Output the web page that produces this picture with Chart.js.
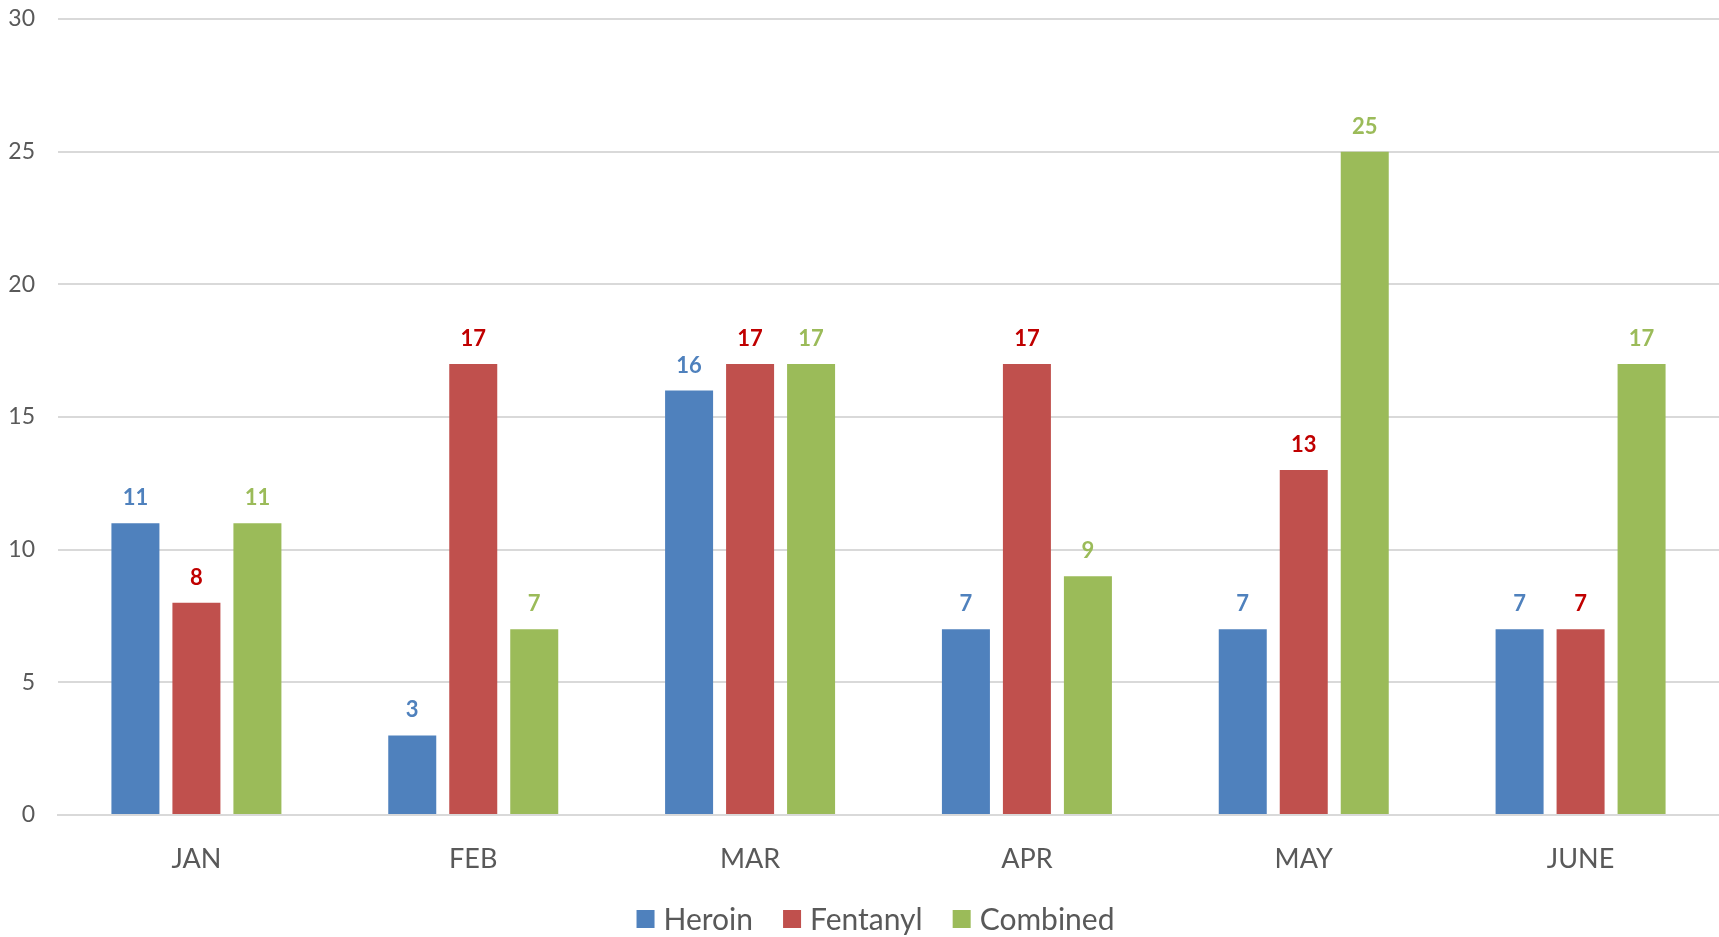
<!DOCTYPE html>
<html>
<head>
<meta charset="utf-8">
<script src="https://cdn.jsdelivr.net/npm/chart.js@4/dist/chart.umd.min.js"></script>
<style>
  html, body { margin: 0; padding: 0; background: #ffffff; }
  #wrap { width: 1719px; height: 937px; position: relative; }
</style>
</head>
<body>
<div id="wrap"><canvas id="c"></canvas></div>
<script>
const months = ["JAN", "FEB", "MAR", "APR", "MAY", "JUNE"];
const heroin = [11, 3, 16, 7, 7, 7];
const fentanyl = [8, 17, 17, 17, 13, 7];
const combined = [11, 7, 17, 9, 25, 17];
const yTicks = [0, 5, 10, 15, 20, 25, 30];

const FONT = "Lato, 'Open Sans', 'Liberation Sans', sans-serif";
const TEXT = "#595959";

const valueLabels = {
  id: "valueLabels",
  afterDatasetsDraw(chart) {
    const ctx = chart.ctx;
    ctx.save();
    ctx.font = "bold 22px " + FONT;
    ctx.textAlign = "center";
    ctx.textBaseline = "middle";
    chart.data.datasets.forEach((ds, i) => {
      const meta = chart.getDatasetMeta(i);
      if (meta.hidden) return;
      ctx.fillStyle = ds.labelColor;
      meta.data.forEach((bar, j) => {
        ctx.fillText(String(ds.data[j]), bar.x, bar.y - 25);
      });
    });
    ctx.restore();
  }
};

// Bottom legend drawn from the chart's datasets (box, small gap, text; wider gap between items)
const bottomLegend = {
  id: "bottomLegend",
  afterDraw(chart) {
    const ctx = chart.ctx;
    const box = 18, gapText = 9, gapItem = 30;
    const cy = chart.height - 18;
    ctx.save();
    ctx.font = "30px " + FONT;
    ctx.textBaseline = "middle";
    ctx.textAlign = "left";
    const items = chart.data.datasets.map(ds => ({ text: ds.label, color: ds.backgroundColor, w: ctx.measureText(ds.label).width }));
    const total = items.reduce((s, it) => s + box + gapText + it.w, 0) + gapItem * (items.length - 1);
    const cx = (chart.width + chart.chartArea.left) / 2 - 13;
    let x = cx - total / 2;
    items.forEach(it => {
      ctx.fillStyle = it.color;
      ctx.fillRect(x, cy - box / 2, box, box);
      ctx.fillStyle = TEXT;
      ctx.fillText(it.text, x + box + gapText, cy + 1);
      x += box + gapText + it.w + gapItem;
    });
    ctx.restore();
  }
};

new Chart(document.getElementById("c"), {
  type: "bar",
  data: {
    labels: months,
    datasets: [
      { label: "Heroin", data: heroin, backgroundColor: "#4F81BD", labelColor: "#4F81BD" },
      { label: "Fentanyl", data: fentanyl, backgroundColor: "#C0504D", labelColor: "#C00000" },
      { label: "Combined", data: combined, backgroundColor: "#9BBB59", labelColor: "#9BBB59" }
    ]
  },
  options: {
    responsive: true,
    maintainAspectRatio: false,
    animation: false,
    datasets: { bar: { categoryPercentage: 0.661, barPercentage: 0.787 } },
    layout: { autoPadding: false, padding: { top: 19, right: 0, left: 0, bottom: 57 } },
    plugins: {
      legend: { display: false },
      tooltip: { enabled: false }
    },
    scales: {
      x: {
        afterFit(scale) { scale.height = 65; },
        grid: { display: false, drawTicks: false },
        border: { display: true, color: "#d9d9d9", width: 2 },
        ticks: { font: { family: FONT, size: 27 }, color: TEXT, padding: 28 }
      },
      y: {
        min: 0,
        max: 30,
        afterBuildTicks(scale) { scale.ticks = yTicks.map(v => ({ value: v })); },
        afterFit(scale) { scale.width = 58; scale.paddingTop = 0; scale.paddingBottom = 0; },
        grid: { color: "#d9d9d9", lineWidth: 2, drawTicks: false },
        border: { display: false },
        ticks: { font: { family: FONT, size: 23 }, color: TEXT, padding: 23 }
      }
    }
  },
  plugins: [valueLabels, bottomLegend]
});
</script>
</body>
</html>
